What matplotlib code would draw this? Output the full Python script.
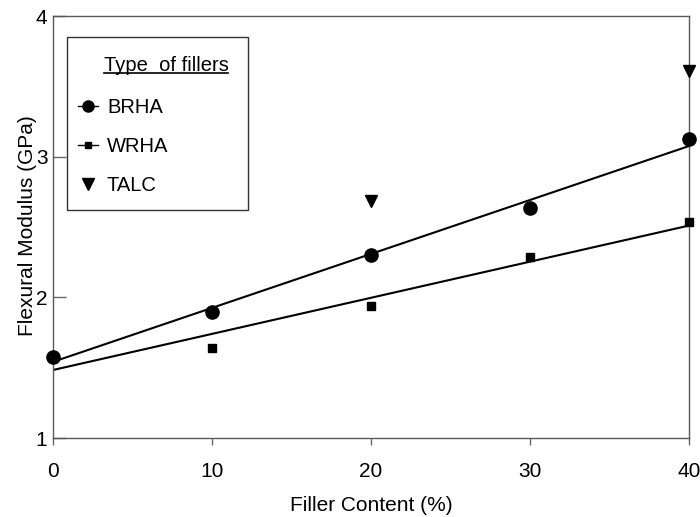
import numpy as np
import matplotlib.pyplot as plt
from matplotlib.lines import Line2D
from matplotlib.patches import Rectangle

plt.rcParams['font.family'] = ['Liberation Sans', 'DejaVu Sans']

# dados
filler = [0, 10, 20, 30, 40]
brha = [1.58, 1.90, 2.30, 2.64, 3.13]
wrha = [1.58, 1.64, 1.94, 2.29, 2.54]
talc_x = [20, 40]
talc = [2.69, 3.61]

xticks = [0, 10, 20, 30, 40]
yticks = [1, 2, 3, 4]

fig = plt.figure(figsize=(7, 5.17), dpi=100)
ax = fig.add_axes([0.0757, 0.1528, 0.9086, 0.8153])

# ajuste linear de cada serie
xx = np.array([0, 40])
cb = np.polyfit(filler, brha, 1)
cw = np.polyfit(filler, wrha, 1)
ax.plot(xx, np.polyval(cb, xx), color='black', lw=1.5, zorder=2)
ax.plot(xx, np.polyval(cw, xx), color='black', lw=1.5, zorder=2)

ax.plot(filler, wrha, 's', color='black', ms=6, clip_on=False, zorder=3)
ax.plot(filler, brha, 'o', color='black', ms=9.5, clip_on=False, zorder=4)
ax.plot(talc_x, talc, 'v', color='black', ms=9, clip_on=False, zorder=4)

ax.set_xlim(0, 40)
ax.set_ylim(1, 4)
ax.set_xticks(xticks)
ax.set_yticks(yticks)
ax.tick_params(axis='x', direction='out', length=5, width=1, color='0.4', pad=12, labelsize=15)
ax.tick_params(axis='y', direction='in', length=9, width=1, color='0.4', pad=4, labelsize=15)
for s in ax.spines.values():
    s.set_color('0.35')
    s.set_linewidth(1)

ax.set_xlabel('Filler Content (%)', fontsize=15)
ax.set_ylabel('Flexural Modulus (GPa)', fontsize=15)
ax.xaxis.set_label_coords(0.5, -0.138)
ax.yaxis.set_label_coords(-0.025, 0.505)

# legenda feita a mao: caixa, titulo sublinhado e entradas
ax.add_patch(Rectangle((0.022, 0.541), 0.2846, 0.4104, transform=ax.transAxes,
                       fill=False, edgecolor='0.2', lw=1, zorder=5))
titulo = ax.text(0.1777, 0.8846, 'Type  of fillers', transform=ax.transAxes,
                 ha='center', va='center', fontsize=14.5, zorder=6)

handles = [Line2D([], [], color='black', lw=1, marker='o', ms=8),
           Line2D([], [], color='black', lw=1, marker='s', ms=5),
           Line2D([], [], color='black', lw=0, marker='v', ms=8)]
ax.legend(handles, ['BRHA', 'WRHA', 'TALC'], loc='center left',
          bbox_to_anchor=(0.039, 0.692), frameon=False, fontsize=14.5,
          borderpad=0, borderaxespad=0, handlelength=1.0, handletextpad=0.45,
          labelspacing=1.0)

fig.canvas.draw()
bb = titulo.get_window_extent().transformed(ax.transAxes.inverted())
ax.add_line(Line2D([bb.x0, bb.x1], [0.866, 0.866], transform=ax.transAxes,
                   color='black', lw=1.2, zorder=6))

plt.savefig('out.png', dpi=100)
